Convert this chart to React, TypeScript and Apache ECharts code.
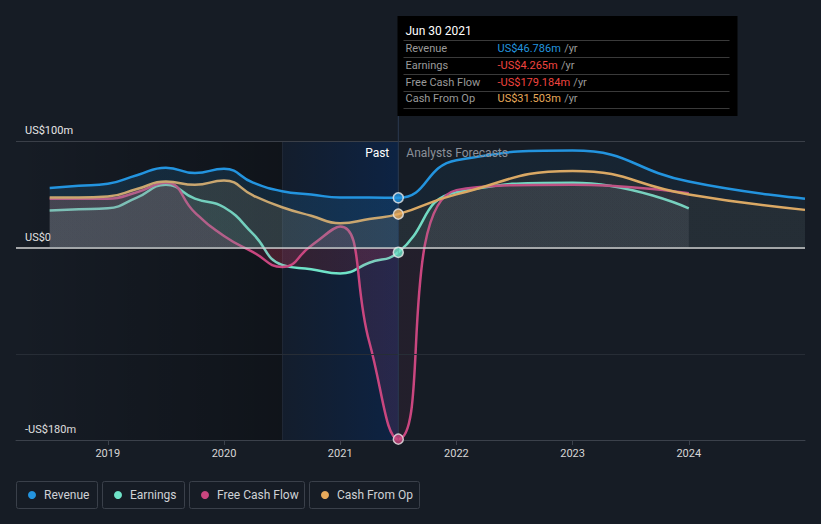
import React, { useEffect, useRef } from "react";
import * as echarts from "echarts";

// ---------- data ----------
const pastDates = [2018.5, 2018.75, 2019.0, 2019.25, 2019.5, 2019.75, 2020.0, 2020.25, 2020.5, 2020.75, 2021.0, 2021.25, 2021.5];
const revenuePast = [56, 58, 60, 68, 75, 70, 74, 61, 53, 50, 47, 47, 46.786];
const earningsPast = [35, 36, 37, 47, 59, 46, 38, 13, -16, -20, -24, -14, -4.265];
const fcfPast = [46, 46, 46, 52, 61, 33, 11, -4, -18, 2, 20, -88, -179.184];
const cfoPast = [47, 47, 48, 55, 62, 59, 63, 49, 38, 30, 23, 27, 31.503];

const forecastDates = [2022.0, 2023.0, 2024.0, 2025.0];
const revenueForecast = [82, 91, 62, 46];
const earningsForecast = [52, 61, 37];
const fcfForecast = [54, 59, 51];
const cfoForecast = [50, 72, 50, 35.5];

const yearTicks = [2019, 2020, 2021, 2022, 2023, 2024];
const yLabelValues = [-180, 0, 100];
const seriesNames = ["Revenue", "Earnings", "Free Cash Flow", "Cash From Op"];
const tooltipDate = "Jun 30 2021";
const pastLabel = "Past";
const forecastLabel = "Analysts Forecasts";
const highlightStart = 2020.5;

// ---------- layout ----------
const W = 821;
const H = 524;
const GRID = { left: 16, right: 16, top: 141, bottom: 84 };
const X_MIN = 2018.21;
const X_MAX = 2025.0;
const Y_MIN = -180;
const Y_MAX = 100;

const COLORS = ["#2394df", "#6fe3c8", "#c9467f", "#e8aa5b"];
const RGB = [
  [35, 148, 223],
  [111, 227, 200],
  [201, 70, 127],
  [232, 170, 91],
];
const BG = "#161c25";
const FONT = "Roboto, 'Noto Sans', sans-serif";

const toPairs = (xs: number[], ys: number[]) => ys.map((y, i) => [xs[i], y]);
const rgba = (c: number[], a: number) => `rgba(${c[0]},${c[1]},${c[2]},${a})`;
const fmt = (v: number) => (v < 0 ? "-" : "") + "US$" + Math.abs(v).toFixed(3) + "m";

export default function App() {
  const ref = useRef<HTMLDivElement>(null);

  useEffect(() => {
    document.body.style.margin = "0";
    document.body.style.background = BG;
    if (!ref.current) return;
    const chart = echarts.init(ref.current, null, { renderer: "svg" });

    const plotW = W - GRID.left - GRID.right;
    const plotH = H - GRID.top - GRID.bottom;
    const nowX = pastDates[pastDates.length - 1];
    const pivot = (nowX - X_MIN) / (X_MAX - X_MIN);
    const zeroOff = (Y_MAX - 0) / (Y_MAX - Y_MIN);

    const pfGrad = (c: number[], aPast: number, aFc: number) =>
      new echarts.graphic.LinearGradient(
        GRID.left, 0, GRID.left + plotW, 0,
        [
          { offset: 0, color: rgba(c, aPast) },
          { offset: pivot, color: rgba(c, aPast) },
          { offset: pivot, color: rgba(c, aFc) },
          { offset: 1, color: rgba(c, aFc) },
        ],
        true
      );
    const earnGrad = new echarts.graphic.LinearGradient(
      0, GRID.top, 0, GRID.top + plotH,
      [
        { offset: 0, color: rgba(RGB[1], 0.12) },
        { offset: zeroOff, color: rgba(RGB[1], 0.12) },
        { offset: zeroOff, color: "rgba(220,50,60,0.22)" },
        { offset: 1, color: "rgba(220,50,60,0.22)" },
      ],
      true
    );

    const revenueData = toPairs(pastDates.concat(forecastDates), revenuePast.concat(revenueForecast));
    const earningsData = toPairs(pastDates.concat(forecastDates), earningsPast.concat(earningsForecast));
    const fcfData = toPairs(pastDates.concat(forecastDates), fcfPast.concat(fcfForecast));
    const cfoData = toPairs(pastDates.concat(forecastDates), cfoPast.concat(cfoForecast));

    const lineSeries = (name: string, data: number[][], idx: number, area: any, z: number, extra: any = {}) => ({
      name,
      type: "line",
      data,
      smooth: 0.5,
      symbol: "none",
      z,
      lineStyle: { color: COLORS[idx], width: 2.5 },
      areaStyle: { color: area, origin: "auto" },
      ...extra,
    });

    const lastVals = [revenuePast, earningsPast, fcfPast, cfoPast].map((a) => a[a.length - 1]);

    const option: any = {
      animation: false,
      backgroundColor: BG,
      textStyle: { fontFamily: FONT },
      grid: { ...GRID, containLabel: false },
      xAxis: {
        type: "value",
        min: X_MIN,
        max: X_MAX,
        axisLine: { onZero: false, lineStyle: { color: "#3b414b", width: 1 } },
        axisTick: { show: true, customValues: yearTicks, length: 5, lineStyle: { color: "#3b414b" } },
        axisLabel: {
          customValues: yearTicks,
          formatter: (v: number) => String(Math.round(v)),
          color: "#d6d6d6",
          fontSize: 11,
          margin: 8,
          fontFamily: FONT,
        },
        splitLine: { show: false },
      },
      yAxis: {
        type: "value",
        min: Y_MIN,
        max: Y_MAX,
        axisLine: { show: false },
        axisTick: { show: false },
        splitLine: { show: false },
        axisLabel: {
          inside: true,
          customValues: yLabelValues,
          formatter: (v: number) => (v === 0 ? "US$0" : (v < 0 ? "-" : "") + "US$" + Math.abs(v) + "m"),
          color: "#e6e6e6",
          fontSize: 11,
          margin: 9,
          verticalAlign: "bottom",
          padding: [0, 0, 5, 0],
          fontFamily: FONT,
        },
      },
      series: [
        {
          type: "line",
          data: [],
          z: 1,
          silent: true,
          markArea: {
            silent: true,
            data: [
              [
                {
                  xAxis: X_MIN,
                  itemStyle: {
                    color: new echarts.graphic.LinearGradient(0, 0, 1, 0, [
                      { offset: 0, color: "rgba(0,0,0,0)" },
                      { offset: 1, color: "rgba(0,0,0,0.3)" },
                    ]),
                  },
                },
                { xAxis: highlightStart },
              ],
              [
                {
                  xAxis: highlightStart,
                  itemStyle: {
                    color: new echarts.graphic.LinearGradient(0, 0, 1, 0, [
                      { offset: 0, color: "rgba(0,40,100,0.12)" },
                      { offset: 1, color: "rgba(0,45,110,0.42)" },
                    ]),
                  },
                },
                { xAxis: nowX },
              ],
            ],
          },
          markLine: {
            silent: true,
            symbol: ["none", "none"],
            label: { show: false },
            data: [
              { xAxis: highlightStart, lineStyle: { color: "rgba(255,255,255,0.05)", width: 1, type: "solid" } },
              { yAxis: -100, lineStyle: { color: "#272d36", width: 1, type: "solid" } },
            ],
          },
        },
        lineSeries(seriesNames[1], earningsData, 1, earnGrad, 3),
        lineSeries(seriesNames[2], fcfData, 2, pfGrad(RGB[2], 0.2, 0.1), 4),
        lineSeries(seriesNames[3], cfoData, 3, pfGrad(RGB[3], 0.22, 0.1), 5),
        lineSeries(seriesNames[0], revenueData, 0, pfGrad(RGB[0], 0.22, 0.1), 6, {
          markLine: {
            silent: true,
            symbol: ["none", "none"],
            label: { show: false },
            data: [
              { yAxis: 100, lineStyle: { color: "#3a3f48", width: 1, type: "solid" } },
              { yAxis: 0, lineStyle: { color: "#d4d4d4", width: 1.5, type: "solid" } },
            ],
          },
        }),
        {
          type: "scatter",
          z: 10,
          symbolSize: 10,
          data: lastVals.map((v, i) => ({
            value: [nowX, v],
            itemStyle: { color: COLORS[i], borderColor: "#e8e8e8", borderWidth: 1.5 },
          })),
        },
      ],
    };
    chart.setOption(option);

    const px = chart.convertToPixel({ xAxisIndex: 0 }, nowX) as number;
    const yTop = chart.convertToPixel({ yAxisIndex: 0 }, Y_MAX) as number;
    const yBottom = chart.convertToPixel({ yAxisIndex: 0 }, Y_MIN) as number;

    const boxX = Math.round(px) - 0.5;
    const boxY = 16;
    const boxW = 340;
    const boxH = 100;
    const rowYs = [48.5, 65, 82, 98.5];
    const sepYs = [40, 57, 74, 91, 108];
    const valColors = lastVals.map((v, i) => (i === 3 ? COLORS[3] : v < 0 ? "#f0443f" : COLORS[0]));

    const graphics: any[] = [
      {
        type: "line",
        shape: { x1: px, y1: boxY + boxH, x2: px, y2: yBottom },
        style: { stroke: "#2b3a50", lineWidth: 1 },
        z: 5,
        silent: true,
      },
      {
        type: "rect",
        shape: { x: boxX, y: boxY, width: boxW, height: boxH },
        style: { fill: "#000" },
        z: 20,
      },
      {
        type: "text",
        x: boxX + 8,
        y: 31,
        z: 21,
        style: { text: tooltipDate, fill: "#ffffff", fontSize: 12, fontFamily: FONT, verticalAlign: "middle" },
      },
      ...sepYs.map((y) => ({
        type: "line",
        z: 21,
        shape: { x1: boxX + 6, y1: y + 0.5, x2: boxX + boxW - 8, y2: y + 0.5 },
        style: { stroke: "#3a3a3a", lineWidth: 1 },
      })),
      ...seriesNames.map((n, i) => ({
        type: "text",
        x: boxX + 8,
        y: rowYs[i],
        z: 21,
        style: { text: n, fill: "#9a9a9a", fontSize: 11, fontFamily: FONT, verticalAlign: "middle" },
      })),
      ...lastVals.map((v, i) => ({
        type: "text",
        x: boxX + 100,
        y: rowYs[i],
        z: 21,
        style: {
          text: `{v|${fmt(v)}} {u|/yr}`,
          verticalAlign: "middle",
          rich: {
            v: { fill: valColors[i], fontSize: 11, fontFamily: FONT },
            u: { fill: "#9a9a9a", fontSize: 11, fontFamily: FONT },
          },
        },
      })),
      {
        type: "text",
        x: px - 9,
        y: yTop + 12,
        z: 21,
        style: { text: pastLabel, fill: "#ffffff", fontSize: 12, fontFamily: FONT, align: "right", verticalAlign: "middle" },
      },
      {
        type: "text",
        x: px + 8,
        y: yTop + 12,
        z: 21,
        style: { text: forecastLabel, fill: "#8b9099", fontSize: 12, fontFamily: FONT, align: "left", verticalAlign: "middle" },
      },
    ];

    // legend
    const legendBoxes = [
      [16, 81],
      [102, 82],
      [189, 115],
      [309, 110],
    ];
    const order = [0, 1, 2, 3];
    order.forEach((si, k) => {
      const [bx, bw] = legendBoxes[k];
      graphics.push({
        type: "rect",
        shape: { x: bx + 0.5, y: 481.5, width: bw, height: 27, r: 2 },
        style: { fill: "none", stroke: "#3a404a", lineWidth: 1 },
        z: 20,
      });
      graphics.push({
        type: "circle",
        shape: { cx: bx + 16, cy: 495, r: 4 },
        style: { fill: COLORS[si] },
        z: 21,
      });
      graphics.push({
        type: "text",
        x: bx + 28,
        y: 495,
        z: 21,
        style: { text: seriesNames[si], fill: "#cfd2d6", fontSize: 12, fontFamily: FONT, verticalAlign: "middle" },
      });
    });

    chart.setOption({ graphic: graphics });

    return () => chart.dispose();
  }, []);

  return <div ref={ref} style={{ width: W, height: H }} />;
}
